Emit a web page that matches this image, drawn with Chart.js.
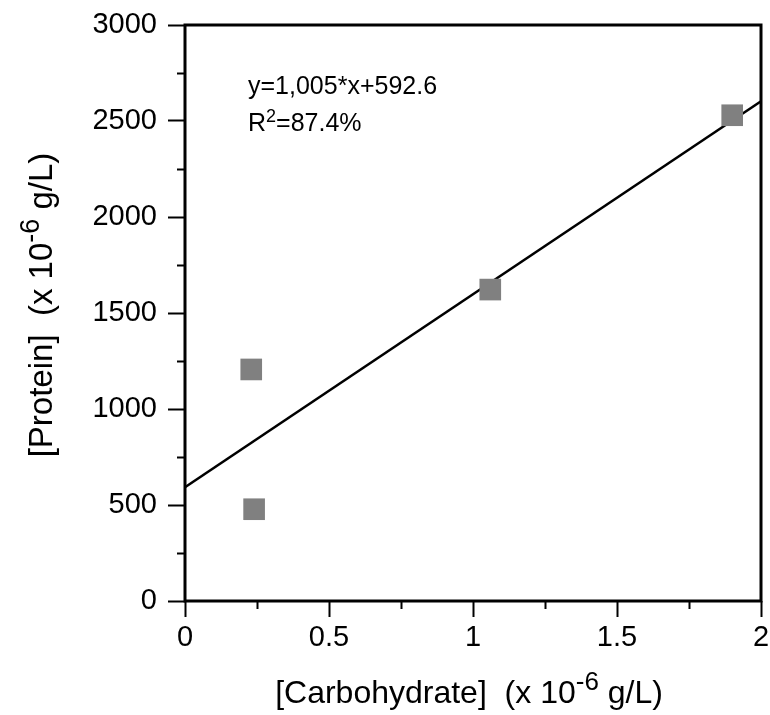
<!DOCTYPE html>
<html>
<head>
<meta charset="utf-8">
<script src="https://cdn.jsdelivr.net/npm/chart.js@4/dist/chart.umd.min.js"></script>
<style>
  html, body { margin: 0; padding: 0; background: #fff; overflow: hidden; }
  canvas { display: block; }
</style>
</head>
<body>
<canvas id="proteinChart" width="770" height="715"></canvas>
<script>
// measured samples
const carbohydrate = [0.23, 0.24, 1.06, 1.90];
const protein = [1206, 478, 1622, 2530];

// fitted line y = 1,005*x + 592.6, drawn across the x range
const fitX = [0, 2];
const fitY = [592.6, 2602.6];

const yMajorStep = 500;
const yMinorStep = 250;
const xMajorStep = 0.5;
const xMinorStep = 0.25;

const FONT = "'Liberation Sans', Arial, Helvetica, sans-serif";

// draws frame, minor ticks, equation and axis titles (with superscripts)
const decorPlugin = {
    id: 'decor',
    afterDraw(chart) {
        const ctx = chart.ctx;
        const area = chart.chartArea;
        const xs = chart.scales.x;
        const ys = chart.scales.y;
        ctx.save();

        // minor ticks
        ctx.strokeStyle = '#000';
        ctx.lineWidth = 2;
        ctx.beginPath();
        for (let v = ys.min + yMinorStep; v < ys.max; v += yMinorStep * 2) {
            const py = Math.round(ys.getPixelForValue(v)) + 0.5;
            ctx.moveTo(area.left - 8, py);
            ctx.lineTo(area.left, py);
        }
        for (let v = xs.min + xMinorStep; v < xs.max; v += xMinorStep * 2) {
            const px = Math.round(xs.getPixelForValue(v)) + 0.5;
            ctx.moveTo(px, area.bottom);
            ctx.lineTo(px, area.bottom + 8);
        }
        ctx.stroke();

        // frame
        ctx.lineWidth = 3;
        ctx.strokeRect(area.left, area.top, area.right - area.left, area.bottom - area.top);

        // equation
        ctx.fillStyle = '#000';
        ctx.textAlign = 'left';
        ctx.textBaseline = 'alphabetic';
        ctx.font = '25px ' + FONT;
        const ex = area.left + 63;
        ctx.fillText('y=1,005*x+592.6', ex, area.top + 69);
        ctx.fillText('R', ex, area.top + 106);
        let w = ctx.measureText('R').width;
        ctx.font = '18px ' + FONT;
        ctx.fillText('2', ex + w, area.top + 97);
        w += ctx.measureText('2').width;
        ctx.font = '25px ' + FONT;
        ctx.fillText('=87.4%', ex + w, area.top + 106);

        // axis titles
        function drawTitle(cx, baseY, size, supSize, rise, before, sup, after) {
            ctx.font = size + 'px ' + FONT;
            const w1 = ctx.measureText(before).width;
            const w3 = ctx.measureText(after).width;
            ctx.font = supSize + 'px ' + FONT;
            const w2 = ctx.measureText(sup).width;
            let x = cx - (w1 + w2 + w3) / 2;
            ctx.font = size + 'px ' + FONT;
            ctx.fillText(before, x, baseY);
            x += w1;
            ctx.font = supSize + 'px ' + FONT;
            ctx.fillText(sup, x, baseY - rise);
            x += w2;
            ctx.font = size + 'px ' + FONT;
            ctx.fillText(after, x, baseY);
        }
        drawTitle((area.left + area.right) / 2 - 4, 703, 32, 26, 13,
            '[Carbohydrate]  (x 10', '-6', ' g/L)');

        ctx.translate(52, (area.top + area.bottom) / 2 - 8);
        ctx.rotate(-Math.PI / 2);
        drawTitle(0, 0, 33, 27, 13, '[Protein]  (x 10', '-6', ' g/L)');

        ctx.restore();
    }
};

const ctx = document.getElementById('proteinChart').getContext('2d');
new Chart(ctx, {
    type: 'scatter',
    data: {
        datasets: [{
            label: 'Samples',
            data: carbohydrate.map((x, i) => ({ x: x, y: protein[i] })),
            pointStyle: 'rect',
            pointRadius: 15.3,
            pointHoverRadius: 15.3,
            pointBackgroundColor: '#808080',
            pointBorderWidth: 0,
            borderWidth: 0,
            order: 1
        }, {
            label: 'Fit',
            type: 'line',
            data: fitX.map((x, i) => ({ x: x, y: fitY[i] })),
            borderColor: '#000',
            borderWidth: 2.5,
            pointRadius: 0,
            fill: false,
            tension: 0,
            order: 2
        }]
    },
    options: {
        responsive: false,
        animation: false,
        events: [],
        layout: {
            autoPadding: false,
            padding: { top: 25, right: 9, left: 0, bottom: 0 }
        },
        plugins: {
            legend: { display: false },
            tooltip: { enabled: false }
        },
        scales: {
            x: {
                type: 'linear',
                min: 0,
                max: 2,
                afterFit(scale) {
                    scale.height = 114;
                    scale.paddingLeft = 0;
                    scale.paddingRight = 0;
                },
                border: { display: false },
                grid: {
                    drawOnChartArea: false,
                    tickLength: 16,
                    tickWidth: 2,
                    tickColor: '#000'
                },
                ticks: {
                    stepSize: xMajorStep,
                    padding: 4,
                    color: '#000',
                    font: { family: FONT, size: 29 },
                    maxRotation: 0,
                    callback: v => String(v)
                }
            },
            y: {
                type: 'linear',
                min: 0,
                max: 3000,
                afterFit(scale) {
                    scale.width = 185;
                    scale.paddingTop = 0;
                    scale.paddingBottom = 0;
                },
                border: { display: false },
                grid: {
                    drawOnChartArea: false,
                    tickLength: 17,
                    tickWidth: 2,
                    tickColor: '#000'
                },
                ticks: {
                    stepSize: yMajorStep,
                    padding: 11,
                    color: '#000',
                    font: { family: FONT, size: 29 },
                    callback: v => String(v)
                }
            }
        }
    },
    plugins: [decorPlugin]
});
</script>
</body>
</html>
